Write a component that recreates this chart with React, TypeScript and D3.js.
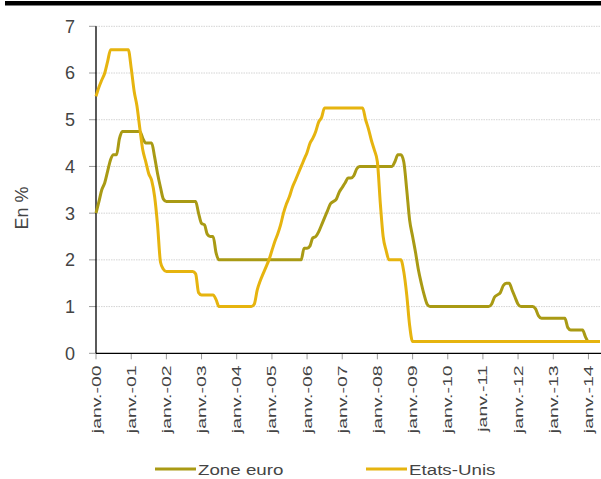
import React from "react";
import * as d3 from "d3";

const startYear = 2000;
const zoneEuro: number[] = [
  3.0, 3.25, 3.5, 3.65, 3.9, 4.15, 4.25, 4.25, 4.6, 4.75, 4.75, 4.75,
  4.75, 4.75, 4.75, 4.75, 4.6, 4.5, 4.5, 4.5, 4.2, 3.85, 3.55, 3.3,
  3.25, 3.25, 3.25, 3.25, 3.25, 3.25, 3.25, 3.25, 3.25, 3.25, 3.25, 3.0,
  2.78, 2.75, 2.55, 2.5, 2.5, 2.15, 2.0, 2.0, 2.0, 2.0, 2.0, 2.0,
  2.0, 2.0, 2.0, 2.0, 2.0, 2.0, 2.0, 2.0, 2.0, 2.0, 2.0, 2.0,
  2.0, 2.0, 2.0, 2.0, 2.0, 2.0, 2.0, 2.0, 2.0, 2.0, 2.0, 2.25,
  2.25, 2.3, 2.47, 2.5, 2.6, 2.75, 2.9, 3.05, 3.2, 3.25, 3.3, 3.45,
  3.55, 3.65, 3.75, 3.75, 3.8, 3.95, 4.0, 4.0, 4.0, 4.0, 4.0, 4.0,
  4.0, 4.0, 4.0, 4.0, 4.0, 4.0, 4.1, 4.25, 4.25, 4.1, 3.5, 2.85,
  2.5, 2.15, 1.8, 1.5, 1.25, 1.05, 1.0, 1.0, 1.0, 1.0, 1.0, 1.0,
  1.0, 1.0, 1.0, 1.0, 1.0, 1.0, 1.0, 1.0, 1.0, 1.0, 1.0, 1.0,
  1.0, 1.0, 1.0, 1.05, 1.2, 1.25, 1.3, 1.45, 1.5, 1.5, 1.35, 1.2,
  1.05, 1.0, 1.0, 1.0, 1.0, 1.0, 0.95, 0.8, 0.75, 0.75, 0.75, 0.75,
  0.75, 0.75, 0.75, 0.75, 0.75, 0.55, 0.5, 0.5, 0.5, 0.5, 0.5, 0.35,
  0.25, 0.25, 0.25, 0.25, 0.25,
];
const etatsUnis: number[] = [
  5.5, 5.7, 5.85, 6.0, 6.25, 6.5, 6.5, 6.5, 6.5, 6.5, 6.5, 6.5,
  6.1, 5.6, 5.3, 4.8, 4.35, 4.1, 3.85, 3.7, 3.35, 2.75, 1.95, 1.8,
  1.75, 1.75, 1.75, 1.75, 1.75, 1.75, 1.75, 1.75, 1.75, 1.75, 1.7, 1.3,
  1.25, 1.25, 1.25, 1.25, 1.25, 1.15, 1.0, 1.0, 1.0, 1.0, 1.0, 1.0,
  1.0, 1.0, 1.0, 1.0, 1.0, 1.0, 1.05, 1.35, 1.55, 1.7, 1.85, 2.0,
  2.2, 2.4, 2.55, 2.75, 3.0, 3.2, 3.35, 3.55, 3.7, 3.85, 4.0, 4.15,
  4.3, 4.5, 4.6, 4.75, 4.95, 5.05, 5.25, 5.25, 5.25, 5.25, 5.25, 5.25,
  5.25, 5.25, 5.25, 5.25, 5.25, 5.25, 5.25, 5.25, 5.0, 4.8, 4.55, 4.35,
  4.1, 3.2, 2.5, 2.2, 2.0, 2.0, 2.0, 2.0, 2.0, 1.75, 1.25, 0.6,
  0.25, 0.25, 0.25, 0.25, 0.25, 0.25, 0.25, 0.25, 0.25, 0.25, 0.25, 0.25,
  0.25, 0.25, 0.25, 0.25, 0.25, 0.25, 0.25, 0.25, 0.25, 0.25, 0.25, 0.25,
  0.25, 0.25, 0.25, 0.25, 0.25, 0.25, 0.25, 0.25, 0.25, 0.25, 0.25, 0.25,
  0.25, 0.25, 0.25, 0.25, 0.25, 0.25, 0.25, 0.25, 0.25, 0.25, 0.25, 0.25,
  0.25, 0.25, 0.25, 0.25, 0.25, 0.25, 0.25, 0.25, 0.25, 0.25, 0.25, 0.25,
  0.25, 0.25, 0.25, 0.25, 0.25,
];
const yTicks = [0, 1, 2, 3, 4, 5, 6, 7];
const xTickLabels = [
  "janv.-00", "janv.-01", "janv.-02", "janv.-03", "janv.-04", "janv.-05", "janv.-06", "janv.-07",
  "janv.-08", "janv.-09", "janv.-10", "janv.-11", "janv.-12", "janv.-13", "janv.-14",
];
const seriesNames = ["Zone euro", "Etats-Unis"];
const colors = ["#A99A14", "#E6B40F"];

const W = 601;
const H = 479;
const left = 96;
const right = 600;
const top = 26.3;
const bottom = 353.3;

export default function App() {
  const dateOf = (i: number) => new Date(startYear, i, 1);
  const x = d3
    .scaleTime()
    .domain([new Date(2000, 0, 1), new Date(2014, 4, 1)])
    .range([left, right]);
  const y = d3.scaleLinear().domain([0, 7]).range([bottom, top]);
  const line = d3
    .line<number>()
    .x((_, i) => x(dateOf(i)))
    .y((d) => y(d))
    .curve(d3.curveMonotoneX);
  const series = [zoneEuro, etatsUnis];
  const font = "'Liberation Sans', Arial, sans-serif";
  return (
    <svg
      width={W}
      height={H}
      style={{ position: "absolute", left: 0, top: 0, background: "#fff" }}
    >
      <rect x={5} y={1} width={W - 5} height={4.5} fill="#000" />
      {yTicks.map((t) => (
        <g key={t}>
          {t > 0 && (
            <line
              x1={left}
              x2={W}
              y1={y(t)}
              y2={y(t)}
              stroke="#d4d4d4"
              strokeWidth={1}
              strokeDasharray="1.5,1"
            />
          )}
          <line x1={89} x2={left} y1={y(t)} y2={y(t)} stroke="#9a9a9a" strokeWidth={1} />
          <text
            x={75}
            y={y(t)}
            dy="0.36em"
            textAnchor="end"
            fontFamily={font}
            fontSize={18}
            fill="#444"
          >
            {t}
          </text>
        </g>
      ))}
      {xTickLabels.map((lab, i) => {
        const xx = x(new Date(startYear + i, 0, 1));
        return (
          <g key={lab}>
            <line x1={xx} x2={xx} y1={bottom} y2={bottom + 6} stroke="#9a9a9a" strokeWidth={1} />
            <text
              transform={`translate(${xx + 4.5},${bottom + 12}) rotate(-90) scale(1.5,1)`}
              textAnchor="end"
              fontFamily={font}
              fontSize={13}
              fill="#444"
            >
              {lab}
            </text>
          </g>
        );
      })}
      <line x1={left} x2={left} y1={top} y2={bottom} stroke="#000" strokeWidth={1.3} />
      <line x1={left} x2={W} y1={bottom} y2={bottom} stroke="#000" strokeWidth={1.3} />
      {series.map((s, k) => (
        <path
          key={k}
          d={line(s) || ""}
          fill="none"
          stroke={colors[k]}
          strokeWidth={3}
          strokeLinejoin="round"
        />
      ))}
      <text
        transform={`translate(28,208) rotate(-90)`}
        textAnchor="middle"
        fontFamily={font}
        fontSize={18}
        fill="#444"
      >
        En %
      </text>
      {seriesNames.map((name, k) => {
        const lx = k === 0 ? 155 : 366;
        return (
          <g key={name} transform={`translate(${lx},0)`}>
            <line x1={0} x2={41} y1={469} y2={469} stroke={colors[k]} strokeWidth={3} />
            <text
              transform="translate(43,475) scale(1.25,1)"
              fontFamily={font}
              fontSize={15}
              fill="#444"
            >
              {name}
            </text>
          </g>
        );
      })}
    </svg>
  );
}
